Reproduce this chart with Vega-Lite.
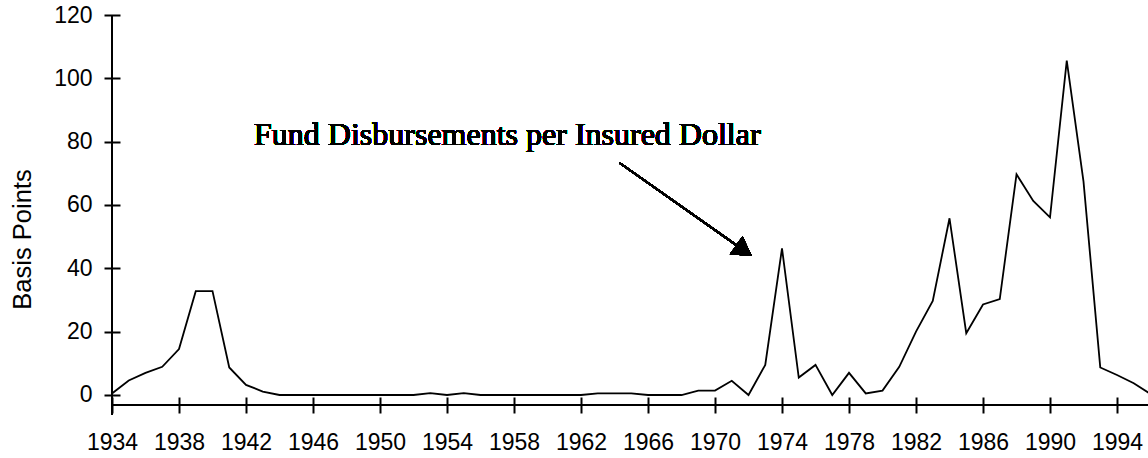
{
  "$schema": "https://vega.github.io/schema/vega-lite/v6.json",
  "autosize": "none",
  "width": 1036,
  "height": 400,
  "padding": {"left": 112, "top": 15, "right": 0, "bottom": 43},
  "background": "white",
  "config": {
    "view": {"stroke": null}
  },
  "data": {
    "values": [
      {"year": 1934, "bp": 0.5}, {"year": 1935, "bp": 4.6}, {"year": 1936, "bp": 7.0}, {"year": 1937, "bp": 8.9},
      {"year": 1938, "bp": 14.5}, {"year": 1939, "bp": 32.8}, {"year": 1940, "bp": 32.8}, {"year": 1941, "bp": 8.7},
      {"year": 1942, "bp": 3.2}, {"year": 1943, "bp": 1.1}, {"year": 1944, "bp": 0}, {"year": 1945, "bp": 0},
      {"year": 1946, "bp": 0}, {"year": 1947, "bp": 0}, {"year": 1948, "bp": 0}, {"year": 1949, "bp": 0},
      {"year": 1950, "bp": 0}, {"year": 1951, "bp": 0}, {"year": 1952, "bp": 0}, {"year": 1953, "bp": 0.6},
      {"year": 1954, "bp": 0}, {"year": 1955, "bp": 0.6}, {"year": 1956, "bp": 0}, {"year": 1957, "bp": 0},
      {"year": 1958, "bp": 0}, {"year": 1959, "bp": 0}, {"year": 1960, "bp": 0}, {"year": 1961, "bp": 0},
      {"year": 1962, "bp": 0}, {"year": 1963, "bp": 0.5}, {"year": 1964, "bp": 0.5}, {"year": 1965, "bp": 0.5},
      {"year": 1966, "bp": 0}, {"year": 1967, "bp": 0}, {"year": 1968, "bp": 0}, {"year": 1969, "bp": 1.4},
      {"year": 1970, "bp": 1.4}, {"year": 1971, "bp": 4.5}, {"year": 1972, "bp": 0}, {"year": 1973, "bp": 9.5},
      {"year": 1974, "bp": 46.3}, {"year": 1975, "bp": 5.5}, {"year": 1976, "bp": 9.5}, {"year": 1977, "bp": 0},
      {"year": 1978, "bp": 7.0}, {"year": 1979, "bp": 0.5}, {"year": 1980, "bp": 1.4}, {"year": 1981, "bp": 8.9},
      {"year": 1982, "bp": 20.0}, {"year": 1983, "bp": 29.7}, {"year": 1984, "bp": 55.8}, {"year": 1985, "bp": 19.5},
      {"year": 1986, "bp": 28.6}, {"year": 1987, "bp": 30.3}, {"year": 1988, "bp": 69.7}, {"year": 1989, "bp": 61.3},
      {"year": 1990, "bp": 56.1}, {"year": 1991, "bp": 105.6}, {"year": 1992, "bp": 67.4}, {"year": 1993, "bp": 8.7},
      {"year": 1994, "bp": 6.3}, {"year": 1995, "bp": 3.7}, {"year": 1996, "bp": 0.3}
    ]
  },
  "layer": [
    {
      "mark": {"type": "line", "color": "black", "strokeWidth": 1.8, "clip": true},
      "encoding": {
        "x": {
          "field": "year", "type": "quantitative",
          "scale": {"domain": [1934, 1995.85], "nice": false, "zero": false},
          "axis": {
            "title": null,
            "grid": false,
            "domain": false,
            "tickColor": "black",
            "tickWidth": 2,
            "tickSize": 16,
            "labelColor": "black",
            "labelFont": "Liberation Sans",
            "labelFontSize": 23,
            "labelOverlap": false,
            "labelFlush": false,
            "values": [1934,1936,1938,1940,1942,1944,1946,1948,1950,1952,1954,1956,1958,1960,1962,1964,1966,1968,1970,1972,1974,1976,1978,1980,1982,1984,1986,1988,1990,1992,1994],
            "format": "d",
            "labelExpr": "(datum.value - 1934) % 4 == 0 ? datum.label : ''",
            "offset": -18,
            "labelBaseline": "alphabetic",
            "labelPadding": 36
          }
        },
        "y": {
          "field": "bp", "type": "quantitative",
          "scale": {"domain": [-6.316, 120], "nice": false, "zero": false},
          "axis": {
            "title": "Basis Points",
            "grid": false,
            "domain": false,
            "tickColor": "black",
            "tickWidth": 2,
            "tickSize": 16,
            "labelColor": "black",
            "labelFont": "Liberation Sans",
            "labelFontSize": 23,
            "labelOverlap": false,
            "labelFlush": false,
            "titleFont": "Liberation Sans",
            "titleFontSize": 25.5,
            "titleFontWeight": "normal",
            "titleColor": "black",
            "values": [0, 20, 40, 60, 80, 100, 120],
            "offset": -8,
            "labelPadding": 12,
            "titleAngle": -90,
            "titleAlign": "center",
            "titleBaseline": "middle",
            "titleX": -98,
            "titleY": 224
          }
        }
      }
    },
    {
      "mark": {"type": "rule", "color": "black", "strokeWidth": 2},
      "encoding": {"x": {"datum": 1934}}
    },
    {
      "mark": {"type": "rule", "color": "black", "strokeWidth": 2},
      "encoding": {"y": {"datum": -3.16}}
    },
    {
      "mark": {"type": "rule", "color": "black", "strokeWidth": 1.8},
      "encoding": {
        "x": {"datum": 1964.3}, "y": {"datum": 73.3},
        "x2": {"datum": 1971.73}, "y2": {"datum": 45.6}
      }
    },
    {
      "mark": {"type": "point", "shape": "triangle-up", "filled": true, "color": "black", "opacity": 1, "size": 484, "angle": 125},
      "encoding": {"x": {"datum": 1971.73}, "y": {"datum": 45.6}}
    },
    {
      "mark": {"type": "text", "font": "Liberation Serif", "fontSize": 32, "fill": "black", "align": "left", "baseline": "alphabetic"},
      "encoding": {
        "x": {"datum": 1942.48}, "y": {"datum": 78.9},
        "text": {"value": "Fund Disbursements per Insured Dollar"}
      }
    }
  ]
}
